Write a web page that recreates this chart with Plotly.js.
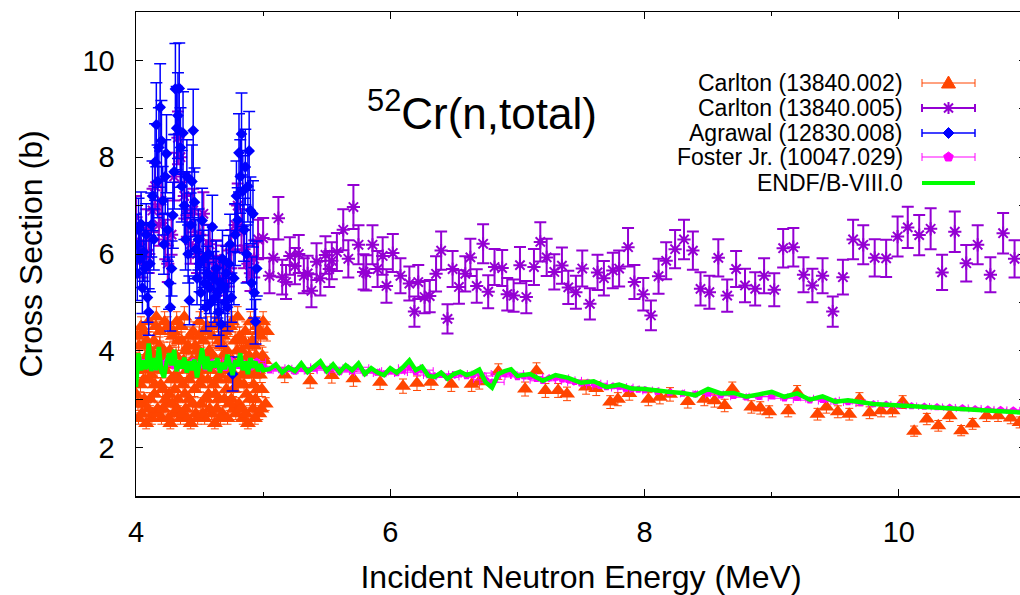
<!DOCTYPE html>
<html>
<head>
<meta charset="utf-8">
<script src="https://cdn.plot.ly/plotly-3.0.1.min.js"></script>
<style>
html,body{margin:0;padding:0;overflow:hidden;background:#fff;}
#chart{width:1026px;height:595px;}
</style>
</head>
<body>
<div id="chart"></div>
<script>
// ---- Carlton (13840.002) ----
const carlton002_E = [4.00,4.01,4.02,4.03,4.04,4.05,4.06,4.07,4.08,4.09,4.10,4.11,4.12,4.13,4.14,4.15,4.16,4.17,4.18,4.19,
4.20,4.21,4.22,4.23,4.24,4.25,4.26,4.27,4.28,4.29,4.30,4.31,4.32,4.33,4.34,4.35,4.36,4.37,4.38,4.39,
4.40,4.41,4.42,4.43,4.44,4.45,4.46,4.47,4.48,4.49,4.50,4.51,4.52,4.53,4.54,4.55,4.56,4.57,4.58,4.59,
4.60,4.61,4.62,4.63,4.64,4.65,4.66,4.67,4.68,4.69,4.70,4.71,4.72,4.73,4.74,4.75,4.76,4.77,4.78,4.79,
4.80,4.81,4.82,4.83,4.84,4.85,4.86,4.87,4.88,4.89,4.90,4.91,4.92,4.93,4.94,4.95,4.96,4.97,4.98,4.99,
5.00,5.01,5.02,5.03,
4.005,4.015,4.025,4.035,4.045,4.055,4.065,4.075,4.085,4.095,4.105,4.115,4.125,4.135,4.145,4.155,4.165,4.175,4.185,4.195,
4.205,4.215,4.225,4.235,4.245,4.255,4.265,4.275,4.285,4.295,4.305,4.315,4.325,4.335,4.345,4.355,4.365,4.375,4.385,4.395,
4.405,4.415,4.425,4.435,4.445,4.455,4.465,4.475,4.485,4.495,4.505,4.515,4.525,4.535,4.545,4.555,4.565,4.575,4.585,4.595,
4.605,4.615,4.625,4.635,4.645,4.655,4.665,4.675,4.685,4.695,4.705,4.715,4.725,4.735,4.745,4.755,4.765,4.775,4.785,4.795,
4.805,4.815,4.825,4.835,4.845,4.855,4.865,4.875,4.885,4.895,4.905,4.915,4.925,4.935,4.945,4.955,4.965,4.975,4.985,4.995,
5.17,5.37,5.54,5.71,5.92,6.10,6.21,6.32,6.48,6.64,6.70,6.85,7.06,7.15,7.22,7.32,7.39,7.54,7.62,7.73,
7.79,7.88,8.03,8.12,8.20,8.34,8.47,8.55,8.63,8.69,8.84,8.91,8.98,9.13,9.20,9.36,9.43,9.52,9.61,9.69,
9.77,9.86,9.95,10.03,10.12,10.22,10.31,10.40,10.49,10.58,10.69,10.78,10.88,10.95];
const carlton002_XS = [3.1,4.3,2.6,3.7,4.5,2.9,3.4,4.1,2.5,3.9,4.6,3.0,3.5,2.7,4.2,3.3,4.7,2.8,3.8,4.4,
2.6,3.2,4.0,3.6,2.9,4.5,3.1,2.5,3.9,4.3,2.7,3.5,4.6,3.0,3.7,2.6,4.2,3.3,4.7,2.8,
3.6,4.1,3.0,2.5,3.8,4.4,3.2,2.7,4.0,3.5,4.6,2.9,3.4,4.2,2.6,3.8,4.5,3.1,2.8,3.9,
4.3,3.3,2.5,3.7,4.6,3.0,3.5,4.1,2.7,3.9,4.4,3.2,2.6,3.6,4.5,3.0,3.8,2.8,4.2,3.4,
4.7,2.9,3.7,4.0,2.6,3.3,4.4,3.1,2.5,3.9,4.6,3.5,2.8,4.1,3.0,4.5,3.6,2.7,4.3,3.2,
4.6,3.8,2.9,4.4,
3.8,2.9,4.1,3.3,2.7,4.4,3.0,3.6,4.2,2.8,3.4,4.0,2.6,3.9,3.1,4.5,3.6,2.7,4.1,3.3,
3.9,2.8,4.6,3.0,3.7,2.6,4.0,3.4,2.9,4.4,3.2,3.9,2.8,4.2,3.4,4.5,2.7,3.8,3.1,4.0,
2.6,3.4,4.3,3.7,2.9,3.5,4.1,3.8,2.6,4.3,3.3,3.9,2.7,3.6,4.4,3.0,3.4,4.0,3.6,2.7,
3.9,4.5,3.1,2.8,3.4,4.2,2.6,3.7,4.3,3.0,3.6,4.0,3.4,2.9,3.8,4.6,3.2,3.5,2.7,4.0,
3.3,4.3,2.8,3.5,4.2,3.8,2.7,3.6,4.1,3.0,3.7,4.2,3.3,2.6,3.9,3.2,4.4,3.5,2.8,3.9,
3.50,3.38,3.49,3.42,3.35,3.27,3.33,3.35,3.31,3.31,3.36,3.57,3.21,3.59,3.18,3.18,3.11,3.25,3.22,2.94,
3.00,3.12,3.00,3.04,3.10,2.95,3.00,2.97,2.87,3.21,2.84,2.82,2.74,2.76,3.14,2.69,2.84,2.74,2.69,3.00,
2.72,2.76,2.76,2.94,2.34,2.59,2.45,2.66,2.35,2.49,2.66,2.66,2.61,2.52];

// ---- Carlton (13840.005) ----
const carlton005_E = [4.00,4.03,4.05,4.08,4.10,4.13,4.15,4.18,4.20,4.23,4.25,4.28,4.30,4.33,4.35,4.38,4.40,4.43,4.45,4.48,
4.50,4.53,4.55,4.58,4.60,4.63,4.65,4.68,4.70,4.73,4.75,4.78,4.80,4.83,4.85,4.88,4.90,4.93,4.96,
5.00,5.05,5.08,5.12,5.15,5.18,5.21,5.25,5.28,5.32,5.35,5.38,5.42,5.45,5.49,5.52,5.54,5.58,5.63,5.67,
5.71,5.75,5.79,5.81,5.86,5.90,5.94,5.97,6.02,6.08,6.15,6.19,6.22,6.27,6.31,6.36,6.40,6.45,6.49,6.54,
6.59,6.63,6.68,6.73,6.77,6.82,6.88,6.92,6.97,7.02,7.07,7.13,7.18,7.23,7.29,7.35,7.40,7.46,7.51,7.57,
7.63,7.68,7.75,7.80,7.87,7.92,7.99,8.05,8.11,8.17,8.24,8.31,8.38,8.44,8.51,8.58,8.65,8.72,8.79,8.87,
8.94,9.02,9.09,9.17,9.25,9.32,9.40,9.48,9.56,9.64,9.72,9.81,9.90,9.99,10.07,10.16,10.25,10.34,10.44,10.53,
10.62,10.72,10.82,10.91];
const carlton005_XS = [6.76,6.2,5.9,6.5,6.0,6.9,7.4,6.6,7.1,6.3,5.8,6.4,7.6,8.4,8.0,7.2,6.8,6.2,6.9,6.0,
6.4,6.83,5.9,6.2,5.6,5.9,5.5,5.8,5.4,5.7,6.1,6.6,7.0,6.5,6.1,5.8,5.6,5.9,6.3,
6.33,5.55,5.92,6.74,5.52,5.42,5.96,5.75,6.00,5.55,5.60,5.24,5.84,5.50,5.98,5.69,5.86,6.04,6.50,5.90,
6.97,6.19,5.63,5.61,6.19,5.69,5.96,5.34,6.02,5.55,5.39,4.81,5.42,5.11,5.13,5.59,6.07,4.66,5.69,5.32,
5.59,5.93,5.34,6.21,5.22,5.73,5.71,5.17,5.14,5.77,5.11,5.73,6.25,5.93,5.63,5.76,5.31,5.21,5.70,4.97,
5.62,5.50,5.66,5.70,6.14,5.42,5.17,4.73,5.54,5.86,6.10,6.30,6.07,5.28,5.21,5.92,5.14,5.69,5.35,5.28,
5.55,5.26,6.12,6.14,5.57,5.35,5.55,4.81,5.52,6.30,6.19,5.92,5.91,6.36,6.55,6.39,6.52,5.62,6.46,5.81,
6.19,5.57,6.43,5.90];

// ---- Agrawal (12830.008) ----
const agrawal_E = [4.00,4.01,4.02,4.03,4.04,4.05,4.06,4.07,4.08,4.09,4.10,4.11,4.12,4.13,4.14,4.15,4.16,4.17,4.18,4.19,
4.20,4.21,4.22,4.23,4.24,4.25,4.26,4.27,4.28,4.29,4.30,4.31,4.32,4.33,4.34,4.35,4.36,4.37,4.38,4.39,
4.40,4.41,4.42,4.43,4.44,4.45,4.46,4.47,4.48,4.49,4.50,4.51,4.52,4.53,4.54,4.55,4.56,4.57,4.58,4.59,
4.60,4.61,4.62,4.63,4.64,4.65,4.66,4.67,4.68,4.69,4.70,4.71,4.72,4.73,4.74,4.75,4.76,4.77,4.78,4.79,
4.80,4.81,4.82,4.83,4.84,4.85,4.86,4.87,4.88,4.89,4.90,4.91,4.92,4.93,4.94,4.95];
const agrawal_XS = [6.2,5.6,6.5,5.9,6.62,5.3,6.04,5.7,6.4,5.1,4.80,5.8,6.6,7.2,6.3,7.9,8.67,7.5,8.20,9.03,
8.34,7.1,6.2,7.6,8.07,6.5,5.4,4.9,5.7,6.8,7.7,9.41,8.6,8.86,9.42,8.2,7.4,8.5,7.0,6.3,
7.6,6.0,5.04,6.6,7.5,8.55,7.07,6.1,5.5,6.3,5.8,5.2,6.69,5.9,5.4,4.9,5.6,6.0,5.3,5.0,
6.56,5.5,5.1,5.7,5.2,4.8,5.4,4.55,5.9,5.3,5.0,5.6,4.9,5.8,6.2,5.1,3.52,5.5,6.4,7.2,
6.7,8.09,7.6,8.48,7.3,6.5,7.8,6.0,7.4,8.13,6.9,5.4,6.83,5.2,4.6,5.7];

// ---- Foster Jr. (10047.029) ----
const foster_E = [4.00,4.05,4.10,4.15,4.20,4.25,4.30,4.35,4.40,4.45,4.50,4.55,4.60,4.65,4.70,4.75,4.80,4.85,4.90,4.95,5.00,
5.05,5.10,5.15,5.20,5.25,5.30,5.35,5.40,5.45,5.50,5.55,5.60,5.65,5.70,5.75,5.80,5.85,5.90,5.95,6.00,
6.05,6.10,6.15,6.20,6.25,6.30,6.35,6.40,6.45,6.50,6.55,6.60,6.65,6.70,6.75,6.80,6.85,6.90,6.95,7.00,
7.05,7.10,7.15,7.20,7.25,7.30,7.35,7.40,7.45,7.50,7.55,7.60,7.65,7.70,7.75,7.80,7.85,7.90,7.95,8.00,
8.1,8.2,8.3,8.4,8.5,8.6,8.7,8.8,8.9,9.0,9.1,9.2,9.3,9.4,9.5,9.6,9.7,9.8,9.9,10.0,
10.1,10.2,10.3,10.4,10.5,10.6,10.7,10.8,10.9,11.0];
const foster_XS = [3.70,3.75,3.82,3.66,3.74,3.80,3.68,3.72,3.64,3.78,3.70,3.66,3.76,3.71,3.65,3.80,3.69,3.74,3.66,3.78,3.68,
3.60,3.66,3.58,3.63,3.57,3.65,3.58,3.64,3.68,3.60,3.66,3.56,3.64,3.58,3.66,3.54,3.60,3.55,3.52,3.58,
3.54,3.60,3.66,3.56,3.60,3.50,3.48,3.52,3.45,3.50,3.53,3.48,3.50,3.54,3.40,3.35,3.48,3.52,3.54,3.46,
3.48,3.47,3.42,3.38,3.44,3.45,3.41,3.40,3.36,3.33,3.34,3.33,3.28,3.25,3.27,3.26,3.22,3.21,3.20,3.19,
3.16,3.14,3.12,3.10,3.12,3.08,3.07,3.04,3.05,3.06,3.02,3.03,2.98,2.99,2.95,2.94,2.92,2.90,2.89,2.87,
2.86,2.85,2.84,2.83,2.82,2.80,2.79,2.78,2.77,2.76];

// ---- ENDF/B-VIII.0 ----
const endf_E = [4.00,4.02,4.04,4.06,4.08,4.10,4.12,4.14,4.16,4.18,4.20,4.22,4.24,4.26,4.28,4.30,4.32,4.34,4.36,4.38,
4.40,4.42,4.44,4.46,4.48,4.50,4.52,4.54,4.56,4.58,4.60,4.62,4.64,4.66,4.68,4.70,4.72,4.74,4.76,4.78,
4.80,4.82,4.84,4.86,4.88,4.90,4.92,4.94,4.96,4.98,5.00,
5.05,5.10,5.15,5.20,5.25,5.30,5.35,5.40,5.45,5.50,5.55,5.60,5.65,5.70,5.75,5.80,5.85,5.90,5.95,6.00,
6.05,6.10,6.15,6.20,6.25,6.30,6.35,6.40,6.45,6.50,6.55,6.60,6.65,6.70,6.75,6.80,6.85,6.90,6.95,7.00,
7.1,7.2,7.3,7.4,7.5,7.6,7.7,7.8,7.9,8.0,8.1,8.2,8.3,8.4,8.5,8.6,8.7,8.8,8.9,9.0,
9.1,9.2,9.3,9.4,9.5,9.6,9.8,10.0,10.2,10.4,10.6,10.8,11.0];
const endf_XS = [3.25,3.95,3.60,3.80,3.62,4.15,3.58,3.85,3.60,4.08,3.58,3.45,3.75,3.95,3.70,4.02,3.58,3.80,3.64,3.86,
3.55,3.78,3.60,3.82,3.45,3.82,4.05,3.62,3.88,3.58,3.78,3.66,3.85,3.55,3.75,3.62,3.92,3.70,3.50,3.80,
3.68,3.95,3.60,3.78,3.52,3.85,3.65,3.78,3.58,3.72,3.60,
3.62,3.72,3.55,3.66,3.58,3.74,3.56,3.68,3.78,3.58,3.72,3.55,3.70,3.60,3.74,3.52,3.64,3.55,3.50,3.64,
3.55,3.66,3.80,3.60,3.67,3.48,3.46,3.55,3.42,3.52,3.57,3.50,3.54,3.61,3.35,3.24,3.52,3.58,3.62,3.48,
3.52,3.38,3.50,3.44,3.34,3.37,3.25,3.30,3.22,3.21,3.17,3.15,3.13,3.08,3.21,3.12,3.13,3.05,3.10,3.15,
3.05,3.12,2.99,3.06,2.95,2.98,2.90,2.87,2.85,2.83,2.80,2.77,2.72];

const legendLabels = ["Carlton (13840.002)","Carlton (13840.005)","Agrawal (12830.008)","Foster Jr. (10047.029)","ENDF/B-VIII.0"];

const C_OR = '#ff4500', C_PU = '#9400d3', C_BL = '#0000ff', C_MG = '#ff00ff', C_GR = '#00ff00';

const traces = [
  {x: carlton002_E, y: carlton002_XS, type:'scatter', mode:'markers', name: legendLabels[0], showlegend:false,
   marker:{symbol:'triangle-up', size:14, color:C_OR},
   error_y:{type:'percent', value:4.5, color:C_OR, thickness:1, width:4}},
  {x: carlton005_E, y: carlton005_XS, type:'scatter', mode:'markers', name: legendLabels[1], showlegend:false,
   marker:{symbol:'asterisk-open', size:11, color:C_PU, line:{color:C_PU, width:2}},
   error_y:{type:'percent', value:6.5, color:C_PU, thickness:2, width:6}},
  {x: agrawal_E, y: agrawal_XS, type:'scatter', mode:'markers', name: legendLabels[2], showlegend:false,
   marker:{symbol:'diamond', size:9, color:C_BL},
   error_y:{type:'percent', value:10, color:C_BL, thickness:1.5, width:6}},
  {x: foster_E, y: foster_XS, type:'scatter', mode:'markers', name: legendLabels[3], showlegend:false,
   marker:{symbol:'pentagon', size:8, color:C_MG},
   error_x:{type:'percent', value:1.4, color:C_MG, thickness:1, width:3},
   error_y:{type:'percent', value:0.8, color:C_MG, thickness:1, width:2}},
  {x: endf_E, y: endf_XS, type:'scatter', mode:'lines', name: legendLabels[4], showlegend:false,
   line:{color:C_GR, width:4.5}}
];

// legend geometry (paper coords); plot spans 890 x 484 px
const W = 890, H = 484;
const lgTextX = (905-136)/W, lgX0 = (922-136)/W, lgX1 = (975-136)/W, lgXC = (948.5-136)/W;
const rowPy = [83,108,133,157,183];
const lgColors = [C_OR, C_PU, C_BL, C_MG, C_GR];
const lgWidths = [1, 2, 1.5, 1, 4];
const lgPaths = [
  {p:'M -7 -5 L 7 -5 L 0 7 Z', fill:true},
  {p:'M -6 0 L 6 0 M 0 -6 L 0 6 M -4.5 -4.5 L 4.5 4.5 M -4.5 4.5 L 4.5 -4.5', fill:false},
  {p:'M 0 -5.5 L 5.5 0 L 0 5.5 L -5.5 0 Z', fill:true},
  {p:'M 0 5 L 4.8 1.5 L 2.9 -4 L -2.9 -4 L -4.8 1.5 Z', fill:true},
  null
];
const FAM = 'Liberation Sans, Arial, sans-serif';
const shapes = [], annotations = [];
rowPy.forEach((py, i) => {
  const yp = (496-py)/H;
  annotations.push({xref:'paper', yref:'paper', x:lgTextX, y:yp, xanchor:'right', yanchor:'middle',
    text: legendLabels[i], showarrow:false, font:{family:FAM, size:23, color:'#000'}});
  shapes.push({type:'line', xref:'paper', yref:'paper', x0:lgX0, x1:lgX1, y0:yp, y1:yp,
    line:{color:lgColors[i], width:lgWidths[i]}});
  if (lgPaths[i]) {
    [lgX0, lgX1].forEach(xc => shapes.push({type:'line', xref:'paper', yref:'paper', ysizemode:'pixel', yanchor:yp,
      x0:xc, x1:xc, y0:-4, y1:4, line:{color:lgColors[i], width:lgWidths[i]}}));
    shapes.push({type:'path', xref:'paper', yref:'paper', xsizemode:'pixel', ysizemode:'pixel',
      xanchor:lgXC, yanchor:yp, path: lgPaths[i].p,
      fillcolor: lgPaths[i].fill ? lgColors[i] : 'rgba(0,0,0,0)',
      line:{color:lgColors[i], width: lgPaths[i].fill ? 1 : 2}});
  }
});

annotations.push({xref:'paper', yref:'paper', x:(482-136)/W, y:(496-110)/H, xanchor:'center', yanchor:'middle',
  text:'<sup>52</sup>Cr(n,total)', showarrow:false, font:{family:FAM, size:44, color:'#000'}});

const layout = {
  width:1026, height:595,
  margin:{l:136, r:0, t:12, b:99},
  paper_bgcolor:'#fff', plot_bgcolor:'#fff',
  showlegend:false,
  font: {family:FAM, color:'#000'},
  xaxis:{range:[4,11], showgrid:false, zeroline:false, showline:true, linecolor:'#000', linewidth:1.5, mirror:'ticks',
    ticks:'inside', ticklen:7, tickwidth:1, tickcolor:'#000', tick0:4, dtick:2,
    minor:{dtick:1, ticks:'inside', ticklen:4, tickcolor:'#000', tickwidth:1},
    tickfont:{size:29, family:FAM}, ticklabelstandoff:10,
    title:{text:'Incident Neutron Energy (MeV)', font:{size:32, family:FAM}, standoff:20}},
  yaxis:{range:[1,11], showgrid:false, zeroline:false, showline:true, linecolor:'#000', linewidth:1.5, mirror:'ticks',
    ticks:'inside', ticklen:7, tickwidth:1, tickcolor:'#000', tick0:0, dtick:2,
    minor:{dtick:1, ticks:'inside', ticklen:7, tickcolor:'#000', tickwidth:1},
    tickfont:{size:29, family:FAM}, ticklabelstandoff:14,
    title:{text:'Cross Section (b)', font:{size:32, family:FAM}, standoff:30}},
  shapes: shapes,
  annotations: annotations
};

Plotly.newPlot('chart', traces, layout, {displayModeBar:false, staticPlot:true});
</script>
</body>
</html>
